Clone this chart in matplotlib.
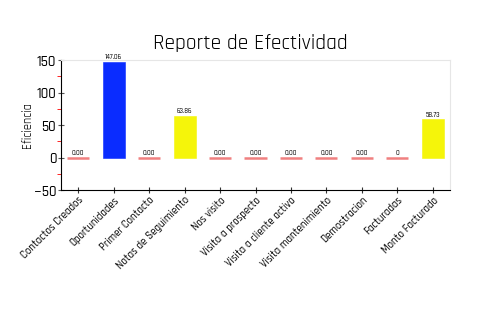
import matplotlib.pyplot as plt
from matplotlib.ticker import MultipleLocator

plt.rcParams['font.family'] = ['Rajdhani', 'Saira Semi Condensed', 'DejaVu Sans']
plt.rcParams['font.weight'] = 'medium'

# Datos del reporte
categorias = ['Contactos Creados', 'Oportunidades', 'Primer Contacto',
              'Notas de Seguimiento', 'Nos visito', 'Visita a prospecto',
              'Visita a cliente activo', 'Visita mantenimiento', 'Demostracion',
              'Facturadas', 'Monto Facturado']
valores = [0, 147.06, 0, 63.86, 0, 0, 0, 0, 0, 0, 58.73]
etiquetas = ['0.00', '147.06', '0.00', '63.86', '0.00', '0.00', '0.00',
             '0.00', '0.00', '0', '58.73']
colores = ['#f08080', '#0a2cff', '#f08080', '#f5f50a', '#f08080', '#f08080',
           '#f08080', '#f08080', '#f08080', '#f08080', '#f5f50a']

fig = plt.figure(figsize=(5, 3.3), dpi=100)
ax = fig.add_axes([0.122, 0.424, 0.778, 0.394])

# las barras en cero se ven como una raya gruesa
grosor = [1.8 if v == 0 else 0.4 for v in valores]
x = range(len(categorias))
ax.bar(x, valores, width=0.62, color=colores, edgecolor=colores, linewidth=grosor)

for i, v in enumerate(valores):
    ax.text(i, v + 2.5, etiquetas[i], ha='center', va='bottom', fontsize=5)

ax.set_xlim(-0.48, 10.48)
ax.set_ylim(-50, 150)
ax.yaxis.set_major_locator(MultipleLocator(50))
ax.yaxis.set_minor_locator(MultipleLocator(25))
ax.tick_params(axis='y', which='major', direction='inout', length=5, color='#555555',
               labelsize=10.5, pad=1)
ax.tick_params(axis='y', which='minor', direction='out', length=3, color='red')
ax.tick_params(axis='x', direction='inout', length=5, color='#333333', labelsize=7.8, pad=1)

ax.set_xticks(list(x))
ax.set_xticklabels(categorias, rotation=45, ha='right', rotation_mode='anchor')
ax.set_ylabel('Eficiencia', fontsize=9)
ax.yaxis.set_label_coords(-0.072, 0.5)

for s in ['top', 'right']:
    ax.spines[s].set_color('#e6e6e6')
for s in ['left', 'bottom']:
    ax.spines[s].set_color('black')

fig.text(0.5, 0.87, 'Reporte de Efectividad', ha='center', va='center',
         fontsize=15.5, fontweight='normal')

plt.savefig('out.png', dpi=100)
